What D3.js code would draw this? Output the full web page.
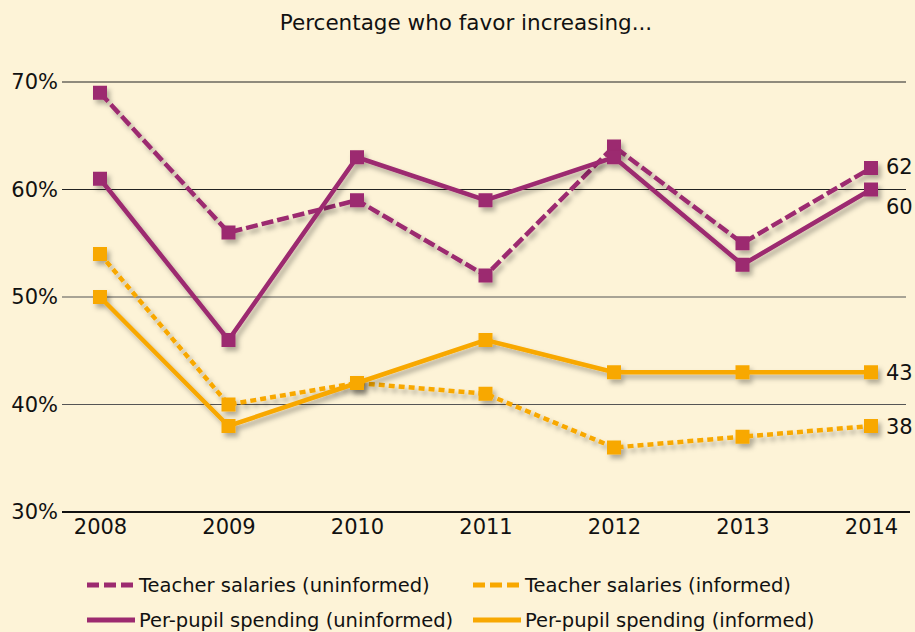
<!DOCTYPE html>
<html><head><meta charset="utf-8">
<script src="https://cdn.jsdelivr.net/npm/d3@7"></script>
<style>
html,body{margin:0;padding:0;background:#fdf3d7;}
svg{display:block;font-family:"DejaVu Sans",sans-serif;}
</style></head>
<body><svg id="c" width="915" height="632"></svg>
<script>
const years = [2008, 2009, 2010, 2011, 2012, 2013, 2014];
const teacherUninformed = [69, 56, 59, 52, 64, 55, 62];
const spendingUninformed = [61, 46, 63, 59, 63, 53, 60];
const teacherInformed = [54, 40, 42, 41, 36, 37, 38];
const spendingInformed = [50, 38, 42, 46, 43, 43, 43];
const yTicks = [30, 40, 50, 60, 70];
const title = "Percentage who favor increasing...";

const purple = "#9c2a6f", orange = "#f8a800";
const series = [
  {name: "Teacher salaries (uninformed)", values: teacherUninformed, color: purple, dash: "12,4", labelDy: -1},
  {name: "Per-pupil spending (uninformed)", values: spendingUninformed, color: purple, dash: null, labelDy: 17},
  {name: "Teacher salaries (informed)", values: teacherInformed, color: orange, dash: "6,4", labelDy: 1},
  {name: "Per-pupil spending (informed)", values: spendingInformed, color: orange, dash: null, labelDy: 0}
];

const svg = d3.select("#c");
const x = d3.scalePoint().domain(years).range([100, 871]);
const y = d3.scaleLinear().domain([30, 70]).range([512, 82]);

const defs = svg.append("defs");
const f = defs.append("filter").attr("id", "sh").attr("x", "-50%").attr("y", "-50%").attr("width", "200%").attr("height", "200%");
f.append("feDropShadow").attr("dx", 3).attr("dy", 4).attr("stdDeviation", 2.5).attr("flood-color", "#000").attr("flood-opacity", 0.3);

svg.append("text").attr("x", 466).attr("y", 22).attr("dy", "0.35em").attr("text-anchor", "middle")
  .attr("font-size", 21.5).attr("fill", "#111").text(title);

// grid
const grid = svg.append("g");
yTicks.forEach(t => {
  grid.append("line").attr("x1", 62).attr("x2", t === 30 ? 910 : 906)
    .attr("y1", y(t)).attr("y2", y(t))
    .attr("stroke", t === 30 ? "#111" : (t === 60 || t === 70 ? "#222" : "#555"))
    .attr("stroke-width", t === 30 ? 2 : 1.2);
  grid.append("text").attr("x", 58).attr("y", y(t)).attr("dy", "0.35em")
    .attr("text-anchor", "end").attr("font-size", 21).attr("fill", "#111").text(t + "%");
});

// x axis labels
const xa = svg.append("g").attr("transform", "translate(0,512)")
  .call(d3.axisBottom(x).tickSize(0).tickPadding(7).tickFormat(d3.format("d")));
xa.select(".domain").remove();
xa.selectAll("text").attr("font-size", 21).attr("fill", "#111").attr("font-family", "DejaVu Sans, sans-serif");

const line = d3.line().x((d, i) => x(years[i])).y(d => y(d));
const drawOrder = [2, 3, 0, 1];
drawOrder.forEach(k => {
  const s = series[k];
  const g = svg.append("g").attr("filter", "url(#sh)");
  g.append("path").datum(s.values).attr("d", line).attr("fill", "none")
    .attr("stroke", s.color).attr("stroke-width", 4.5)
    .attr("stroke-dasharray", s.dash);
  g.selectAll("rect").data(s.values).join("rect")
    .attr("x", (d, i) => x(years[i]) - 7).attr("y", d => y(d) - 7)
    .attr("width", 14).attr("height", 14).attr("fill", s.color);
});

// end labels
series.forEach(s => {
  const v = s.values[s.values.length - 1];
  svg.append("text").attr("x", 886).attr("y", y(v) + s.labelDy).attr("dy", "0.35em")
    .attr("font-size", 21).attr("fill", "#111").text(v);
});

// legend
const leg = [
  {s: series[0], lx: 87, ly: 585},
  {s: series[2], lx: 473, ly: 585},
  {s: series[1], lx: 87, ly: 620},
  {s: series[3], lx: 473, ly: 620}
];
leg.forEach(L => {
  svg.append("line").attr("x1", L.lx).attr("x2", L.lx + 48).attr("y1", L.ly).attr("y2", L.ly)
    .attr("stroke", L.s.color).attr("stroke-width", 5)
    .attr("stroke-dasharray", L.s.dash ? "12,5" : null);
  svg.append("text").attr("x", L.lx + 52).attr("y", L.ly).attr("dy", "0.35em")
    .attr("font-size", 19.5).attr("fill", "#111").text(L.s.name);
});
</script></body></html>
